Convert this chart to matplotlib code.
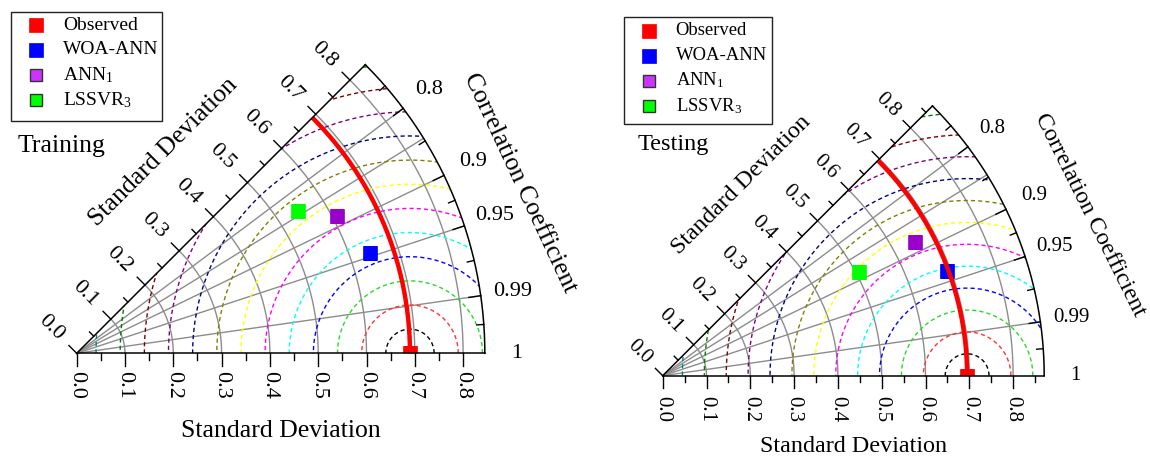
import numpy as np
import matplotlib
matplotlib.use('Agg')
from matplotlib import pyplot as plt
from matplotlib.patches import Wedge, Rectangle

plt.rcParams['font.family'] = ['Liberation Serif', 'DejaVu Serif']
plt.rcParams['mathtext.fontset'] = 'custom'
plt.rcParams['mathtext.rm'] = 'Liberation Serif'
plt.rcParams['mathtext.it'] = 'Liberation Serif:italic'

# data
models = ['Observed', 'WOA-ANN', r'ANN$_1$', r'LSSVR$_3$']
train_std = [0.69, 0.642, 0.609, 0.545]
train_corr = [1.0, 0.946, 0.885, 0.842]
test_std = [0.695, 0.692, 0.652, 0.507]
test_corr = [1.0, 0.939, 0.884, 0.885]
train_max = 0.845
test_max = 0.871

point_colors = ['#ff0000', '#0000ff', '#9900cc', '#00ff00']
legend_colors = ['#ff0000', '#0000ff', '#cc33ff', '#00ff00']
legend_edges = ['#ff0000', '#0000ff', '#333333', '#333333']

rms_levels = [0.05, 0.10, 0.15, 0.20, 0.25, 0.30, 0.35, 0.40, 0.45, 0.50, 0.55, 0.60, 0.65]
rms_colors = ['#000000', '#ff3333', '#22dd22', '#0000ff', '#00ffff', '#ff00ff', '#ffff00',
              '#808000', '#000080', '#800080', '#800000', '#008000', '#008080']

corr_major = [0.8, 0.9, 0.95, 0.99]
corr_labels = ['0.8', '0.9', '0.95', '0.99', '1']
corr_lines = [0.8, 0.85, 0.9, 0.95, 0.99]

W, H = 1150, 458
fig = plt.figure(figsize=(W / 100, H / 100), dpi=100)
GRAY = '#8c8c8c'
TICK_FS = 16


def panel(rect, origin, k, std, corr, smax, fs, lab_off, corr_lab):
    x0, x1 = rect
    ax = fig.add_axes([x0 / W, 0, (x1 - x0) / W, 1])
    ax.set_xlim((x0 - origin[0]) / k, (x1 - origin[0]) / k)
    ax.set_ylim(-(H - origin[1]) / k, origin[1] / k)
    ax.axis('off')
    px = 1.0 / k

    clip = Wedge((0, 0), smax, 0, 45, facecolor='none', edgecolor='none')
    ax.add_patch(clip)
    t = np.linspace(0, np.pi / 4, 300)

    # standard deviation arcs
    for r in np.arange(0.1, smax, 0.1):
        ax.plot(r * np.cos(t), r * np.sin(t), color=GRAY, lw=1.0, zorder=1)
    # correlation rays
    for c in corr_lines:
        a = np.arccos(c)
        ax.plot([0, smax * np.cos(a)], [0, smax * np.sin(a)], color=GRAY, lw=1.0, zorder=1)

    # centred RMS difference contours
    ref = std[0]
    u = np.linspace(0, 2 * np.pi, 1000)
    for lev, col in zip(rms_levels, rms_colors):
        ln, = ax.plot(ref + lev * np.cos(u), lev * np.sin(u), color=col, lw=1.0,
                      ls=(0, (3, 2.2)), zorder=2)
        ln.set_clip_path(clip)

    # observed std arc
    ax.plot(ref * np.cos(t), ref * np.sin(t), color='#ff0000', lw=3.2, zorder=5,
            solid_capstyle='butt')

    # frame
    ax.plot([0, smax], [0, 0], color='k', lw=1.1, zorder=6)
    ax.plot([0, smax * np.cos(np.pi / 4)], [0, smax * np.sin(np.pi / 4)], color='k', lw=1.1, zorder=6)
    ax.plot(smax * np.cos(t), smax * np.sin(t), color='k', lw=1.1, zorder=6)

    # model points
    for s, c, col in zip(std, corr, point_colors):
        a = np.arccos(c)
        m, = ax.plot(s * np.cos(a), s * np.sin(a), 's', ms=10 * fs, mfc=col, mec=col,
                     mew=0.5, zorder=4)
        m.set_clip_path(clip)

    # std ticks: bottom axis and 45 degree edge
    nx, ny = -np.sin(np.pi / 4), np.cos(np.pi / 4)
    ticks = np.arange(0, smax + 1e-9, 0.05)
    for i, v in enumerate(ticks):
        major = i % 2 == 0
        L = (13 if major else 7) * fs * px
        ax.plot([v, v], [0, -L], color='k', lw=1.0, zorder=6)
        ex, ey = v * np.cos(np.pi / 4), v * np.sin(np.pi / 4)
        L2 = (11 if major else 6) * fs * px
        ax.plot([ex, ex + nx * L2], [ey, ey + ny * L2], color='k', lw=1.0, zorder=6)
        if major:
            ax.text(v, -lab_off['xt'] * px, '%.1f' % v, rotation=-90, ha='center', va='top',
                    fontsize=TICK_FS * fs)
            d = lab_off['et'] * px
            ax.text(ex + nx * d, ey + ny * d, '%.1f' % v, rotation=-45, ha='center',
                    va='center', fontsize=TICK_FS * fs, rotation_mode='anchor')

    # correlation ticks on the outer arc
    angs = [np.arccos(c) for c in corr_major]
    full = [np.pi / 4] + angs + [0.0]
    minors = [(full[j] + full[j + 1]) / 2 for j in range(len(full) - 1)]
    for a, L in [(a, 12) for a in angs] + [(a, 7) for a in minors]:
        r0 = smax - L * fs * px
        ax.plot([r0 * np.cos(a), smax * np.cos(a)], [r0 * np.sin(a), smax * np.sin(a)],
                color='k', lw=1.0, zorder=6)
    for a, lab in zip(angs + [0.0], corr_labels):
        r = smax + corr_lab * px
        ax.text(r * np.cos(a), r * np.sin(a), lab, ha='center', va='center',
                fontsize=TICK_FS * fs)

    # axis titles
    ax.text(smax / 2, -lab_off['xl'] * px, 'Standard Deviation', ha='center', va='center',
            fontsize=18.5 * fs)
    al, dn = smax / 2, lab_off['el'] * px
    ax.text(al * np.cos(np.pi / 4) + nx * dn, al * np.sin(np.pi / 4) + ny * dn,
            'Standard Deviation', rotation=45, ha='center', va='center', fontsize=18.5 * fs,
            rotation_mode='anchor')
    rc = smax + lab_off['cl'] * px
    ac = np.radians(lab_off['ca'])
    ax.text(rc * np.cos(ac), rc * np.sin(ac), 'Correlation Coefficient', rotation=lab_off['cr'],
            ha='center', va='center', fontsize=18.5 * fs, rotation_mode='anchor')
    return ax


panel((0, 575), (76.7, 353.3), 483.0, train_std, train_corr, train_max, 1.0,
      dict(xt=18, et=36, xl=78, el=81, cl=67, ca=21, cr=-65), 32)
panel((575, 1150), (662.7, 375.7), 438.0, test_std, test_corr, test_max, 0.94,
      dict(xt=20, et=33, xl=71, el=79, cl=75, ca=20.6, cr=-63.5), 31)

# overlay for legends and panel names (pixel coordinates)
ov = fig.add_axes([0, 0, 1, 1])
ov.set_xlim(0, W)
ov.set_ylim(H, 0)
ov.axis('off')


def legend_box(box, mx, tx, rows, fs):
    ov.add_patch(Rectangle((box[0], box[1]), box[2] - box[0], box[3] - box[1],
                           fill=False, edgecolor='#222222', lw=1.0))
    for i, (lab, fc, ec) in enumerate(zip(models, legend_colors, legend_edges)):
        ms = (10 if i < 2 else 8.6) * fs
        ov.plot(mx, rows[i], 's', ms=ms, mfc=fc, mec=ec, mew=1.0 if i >= 2 else 0.5)
        ov.text(tx, rows[i], lab, ha='left', va='center', fontsize=14 * fs)


legend_box((11, 12, 162, 121), 36, 63, [25, 50, 75, 100], 1.0)
legend_box((624, 17, 772, 124), 648.6, 675.6, [30.7, 55.5, 80.5, 106], 0.96)
ov.text(18, 152, 'Training', ha='left', va='baseline', fontsize=18.5)
ov.text(638, 150, 'Testing', ha='left', va='baseline', fontsize=17.5)

plt.savefig('out.png', dpi=100)
